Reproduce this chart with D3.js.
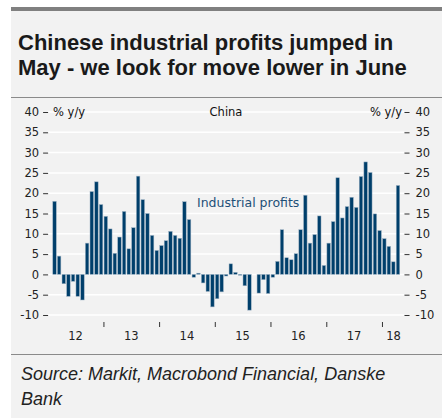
<!DOCTYPE html>
<html>
<head>
<meta charset="utf-8">
<script src="https://cdn.jsdelivr.net/npm/d3@7"></script>
<style>
  body { margin: 0; background: #fff; }
  text { font-family: "DejaVu Sans", sans-serif; }
</style>
</head>
<body>
<div id="chart"></div>
<script>
// monthly bars, Feb 2012 .. Apr 2018
var firstMonth = new Date(2012, 1, 1);
var profits = [
  18.0, 4.5, -2.3, -5.4, -1.7, -5.4, -6.3, 7.7, 20.4, 22.8, 17.2,
  14.3, 11.2, 5.2, 9.2, 15.5, 6.3, 11.5, 24.2, 18.4, 15.0, 9.6, 5.9,
  7.1, 8.3, 10.6, 9.6, 8.9, 17.9, 13.5, -0.7, 0.3, -2.1, -4.2, -8.0,
  -6.0, -4.3, -0.4, 2.6, 0.5, -0.2, -2.8, -8.8, 0.0, -4.6, -1.3, -4.7,
  -0.7, 3.2, 11.0, 4.1, 3.6, 5.1, 11.0, 19.5, 7.7, 9.8, 14.4, 2.2,
  7.7, 13.0, 23.8, 13.9, 16.7, 19.0, 16.5, 24.1, 27.7, 25.1, 14.9, 10.8,
  8.8, 6.9, 3.1, 21.9
];
var months = profits.map(function(d, i) { return d3.timeMonth.offset(firstMonth, i); });
var yTicks = [-10, -5, 0, 5, 10, 15, 20, 25, 30, 35, 40];
var years = [2012, 2013, 2014, 2015, 2016, 2017, 2018];

var width = 447, height = 418;
var plotLeft = 47.6, plotRight = 405, plotTop = 112, plotBottom = 315;

var svg = d3.select("#chart").append("svg")
    .attr("width", width)
    .attr("height", height);

// panel
svg.append("rect").attr("x", 11).attr("y", 11).attr("width", 431).attr("height", 407).attr("fill", "#f2f2f2");
svg.append("rect").attr("x", 11).attr("y", 7).attr("width", 431).attr("height", 4).attr("fill", "#808080");
svg.append("line").attr("x1", 11).attr("x2", 442).attr("y1", 97.5).attr("y2", 97.5).attr("stroke", "#8a8a8a");
svg.append("line").attr("x1", 11).attr("x2", 442).attr("y1", 354.5).attr("y2", 354.5).attr("stroke", "#8a8a8a");

// title
svg.append("text").attr("x", 18).attr("y", 50)
    .attr("font-size", 22).attr("font-weight", "bold").attr("fill", "#1a1a1a")
    .style("font-family", "'Liberation Sans', sans-serif")
    .text("Chinese industrial profits jumped in");
svg.append("text").attr("x", 18).attr("y", 75)
    .attr("font-size", 22).attr("font-weight", "bold").attr("fill", "#1a1a1a")
    .style("font-family", "'Liberation Sans', sans-serif")
    .text("May - we look for move lower in June");

var x = d3.scaleTime()
    .domain([new Date(2012, 0, 1), new Date(2018, 5, 1)])
    .range([plotLeft, plotRight]);

var y = d3.scaleLinear()
    .domain([-10, 40])
    .range([plotBottom, plotTop]);

// gridlines
svg.append("g").selectAll("line")
    .data(yTicks)
  .enter().append("line")
    .attr("x1", plotLeft).attr("x2", plotRight - 1)
    .attr("y1", function(d) { return y(d); })
    .attr("y2", function(d) { return y(d); })
    .attr("stroke", "#ffffff")
    .attr("stroke-width", 1.5);

// left axis
var yLeft = svg.append("g")
    .attr("transform", "translate(" + (plotLeft + 0.5) + ",0)")
    .call(d3.axisLeft(y).tickValues(yTicks).tickSize(5).tickPadding(4).tickFormat(function(d) { return String(d); }));
// right axis
var yRight = svg.append("g")
    .attr("transform", "translate(" + (plotRight - 0.5) + ",0)")
    .call(d3.axisRight(y).tickValues(yTicks).tickSize(5).tickPadding(6).tickFormat(function(d) { return String(d); }));

[yLeft, yRight].forEach(function(g) {
  g.select(".domain").remove();
  g.selectAll(".tick line").attr("stroke", "#333");
  g.selectAll(".tick text").attr("font-size", 11.5).attr("fill", "#222")
    .style("font-family", "'DejaVu Sans', sans-serif");
});

// bars
svg.append("g").selectAll("rect")
    .data(profits)
  .enter().append("rect")
    .attr("x", function(d, i) {
      var a = x(months[i]), b = x(d3.timeMonth.offset(months[i], 1));
      return (a + b) / 2 - 1.75;
    })
    .attr("width", 3.5)
    .attr("y", function(d) { return y(Math.max(0, d)); })
    .attr("height", function(d) { return Math.abs(y(d) - y(0)); })
    .attr("fill", "#003f6b")
    .attr("stroke", "#9fb3c4")
    .attr("stroke-width", 0.5);

// x axis ticks (year starts)
var xAxis = svg.append("g")
    .attr("transform", "translate(0,322)")
    .call(d3.axisBottom(x).ticks(d3.timeYear).tickSize(5).tickFormat(""));
xAxis.select(".domain").remove();
xAxis.selectAll(".tick").filter(function(d) { return d.getFullYear() === 2012; }).remove();
xAxis.selectAll(".tick line").attr("stroke", "#333");

svg.append("g").selectAll("text")
    .data(years)
  .enter().append("text")
    .attr("x", function(d) {
      var a = x(new Date(d, 0, 1)), b = Math.min(x(new Date(d + 1, 0, 1)), plotRight);
      return (Math.max(a, plotLeft) + b) / 2;
    })
    .attr("y", 340)
    .attr("text-anchor", "middle")
    .attr("font-size", 11.5)
    .attr("fill", "#222")
    .text(function(d) { return String(d).slice(2); });

// labels inside plot
svg.append("text").attr("x", 53).attr("y", y(40)).attr("dy", "0.35em")
    .attr("font-size", 11.5).attr("fill", "#111").text("% y/y");
svg.append("text").attr("x", 402).attr("y", y(40)).attr("dy", "0.35em")
    .attr("text-anchor", "end")
    .attr("font-size", 11.5).attr("fill", "#111").text("% y/y");
svg.append("text").attr("x", 226).attr("y", y(40)).attr("dy", "0.35em")
    .attr("text-anchor", "middle")
    .attr("font-size", 11.5).attr("fill", "#111").text("China");
svg.append("text").attr("x", 197).attr("y", 203).attr("dy", "0.35em")
    .attr("font-size", 12.5).attr("fill", "#1d4f77").text("Industrial profits");

// source
svg.append("text").attr("x", 21).attr("y", 380)
    .attr("font-size", 18).attr("font-style", "italic").attr("fill", "#222")
    .style("font-family", "'Liberation Sans', sans-serif")
    .text("Source: Markit, Macrobond Financial, Danske");
svg.append("text").attr("x", 21).attr("y", 405)
    .attr("font-size", 18).attr("font-style", "italic").attr("fill", "#222")
    .style("font-family", "'Liberation Sans', sans-serif")
    .text("Bank");
</script>
</body>
</html>
